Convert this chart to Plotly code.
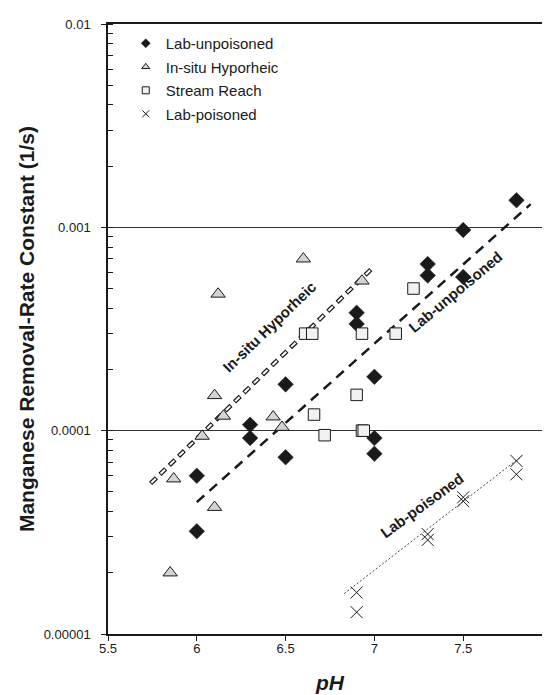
import plotly.graph_objects as go

# ---- data ----
lab_unpoisoned_ph = [6.0, 6.0, 6.3, 6.3, 6.5, 6.5, 6.9, 6.9, 7.0, 7.0, 7.0, 7.3, 7.3, 7.5, 7.5, 7.8]
lab_unpoisoned_k = [6.0e-5, 3.2e-5, 1.07e-4, 9.2e-5, 1.69e-4, 7.4e-5, 3.8e-4, 3.35e-4, 1.84e-4, 9.2e-5, 7.7e-5,
                    6.6e-4, 5.8e-4, 9.7e-4, 5.7e-4, 1.36e-3]

insitu_ph = [5.85, 5.87, 6.03, 6.1, 6.1, 6.12, 6.15, 6.43, 6.48, 6.6, 6.93]
insitu_k = [2.0e-5, 5.8e-5, 9.4e-5, 1.49e-4, 4.2e-5, 4.7e-4, 1.18e-4, 1.17e-4, 1.04e-4, 7.0e-4, 5.45e-4]

stream_ph = [6.61, 6.65, 6.66, 6.72, 6.9, 6.93, 6.93, 6.94, 7.12, 7.22]
stream_k = [3.0e-4, 3.0e-4, 1.2e-4, 9.5e-5, 1.5e-4, 3.0e-4, 1.0e-4, 1.0e-4, 3.0e-4, 5.0e-4]

poisoned_ph = [6.9, 6.9, 7.3, 7.3, 7.5, 7.5, 7.8, 7.8]
poisoned_k = [1.6e-5, 1.28e-5, 3.1e-5, 2.9e-5, 4.7e-5, 4.5e-5, 7.1e-5, 6.1e-5]

# trend lines (end points)
fit_unpoisoned_ph = [6.0, 7.88]
fit_unpoisoned_k = [4.45e-5, 1.3e-3]
fit_insitu_ph = [5.74, 6.98]
fit_insitu_k = [5.5e-5, 6.2e-4]
fit_poisoned_ph = [6.83, 7.83]
fit_poisoned_k = [1.58e-5, 7.5e-5]

series_names = ["Lab-unpoisoned", "In-situ Hyporheic", "Stream Reach", "Lab-poisoned"]

y_tickvals = [1e-5, 1e-4, 1e-3, 1e-2]
y_ticktext = ["0.00001", "0.0001", "0.001", "0.01"]
x_tickvals = [5.5, 6, 6.5, 7, 7.5, 8]
x_ticktext = ["5.5", "6", "6.5", "7", "7.5", "8"]

FONT = "Liberation Sans, Arial, sans-serif"
INK = "#1a1a1a"

styles = [
    dict(symbol="diamond", color=INK, line=dict(color=INK, width=0.5)),
    dict(symbol="triangle-up", color="#d4d4d4", line=dict(color=INK, width=1)),
    dict(symbol="square", color="#f2f2f2", line=dict(color=INK, width=1)),
    dict(symbol="x-thin", color=INK, line=dict(color=INK, width=1)),
]
sizes = [12, 12.5, 11.5, 12]
legend_sizes = [7, 7, 7, 7]

fig = go.Figure()

# trend lines
fig.add_trace(go.Scatter(x=fit_insitu_ph, y=fit_insitu_k, mode="lines", showlegend=False, hoverinfo="skip",
                         line=dict(color=INK, width=4.5, dash="8px,5px")))
fig.add_trace(go.Scatter(x=fit_insitu_ph, y=fit_insitu_k, mode="lines", showlegend=False, hoverinfo="skip",
                         line=dict(color="white", width=2, dash="0px,1px,6px,6px")))
fig.add_trace(go.Scatter(x=fit_unpoisoned_ph, y=fit_unpoisoned_k, mode="lines", showlegend=False, hoverinfo="skip",
                         line=dict(color=INK, width=2.5, dash="10px,7px")))
fig.add_trace(go.Scatter(x=fit_poisoned_ph, y=fit_poisoned_k, mode="lines", showlegend=False, hoverinfo="skip",
                         line=dict(color="#444", width=1, dash="2px,2px")))

# data series
data = [(lab_unpoisoned_ph, lab_unpoisoned_k), (insitu_ph, insitu_k), (stream_ph, stream_k),
        (poisoned_ph, poisoned_k)]
for (xs, ys), name, st, sz in zip(data, series_names, styles, sizes):
    fig.add_trace(go.Scatter(x=xs, y=ys, mode="markers", name=name, showlegend=False,
                             marker=dict(size=sz, **st)))

# legend entries (small symbols as in the reference)
for i, (name, st, sz) in enumerate(zip(series_names, styles, legend_sizes)):
    fig.add_trace(go.Scatter(x=[None], y=[None], mode="markers", name=name, legendgroup=str(i),
                             marker=dict(size=sz, **st)))

ann_font = dict(family=FONT, size=15, color=INK, weight="bold")
fig.add_annotation(x=6.41, y=-3.488, text="In-situ Hyporheic", showarrow=False, textangle=-44, font=ann_font)
fig.add_annotation(x=7.458, y=-3.316, text="Lab-unpoisoned", showarrow=False, textangle=-40, font=ann_font)
fig.add_annotation(x=7.267, y=-4.369, text="Lab-poisoned", showarrow=False, textangle=-36, font=ann_font)

fig.update_layout(
    width=550, height=695,
    margin=dict(l=100, r=2, t=16, b=69),
    paper_bgcolor="white", plot_bgcolor="white",
    font=dict(family=FONT, size=13, color=INK),
    legend=dict(x=0.04, y=0.995, xanchor="left", yanchor="top", bgcolor="rgba(0,0,0,0)",
                font=dict(family=FONT, size=15, color=INK), traceorder="grouped", tracegroupgap=1,
                itemsizing="trace"),
    showlegend=True,
)
fig.update_xaxes(range=[5.5, 8], tickmode="array", tickvals=x_tickvals, ticktext=x_ticktext,
                 ticks="outside", ticklen=5, tickcolor=INK, showgrid=False, zeroline=False,
                 showline=True, linecolor=INK, linewidth=1.5, mirror=True, ticklabelstandoff=-3,
                 tickfont=dict(family=FONT, size=13, color=INK),
                 title=dict(text="<i>pH</i>", font=dict(family=FONT, size=21, color=INK, weight="bold"), standoff=20))
fig.update_yaxes(type="log", range=[-5, -2], tickmode="array", tickvals=y_tickvals, ticktext=y_ticktext,
                 ticks="outside", ticklen=5, tickcolor=INK, showgrid=True, gridcolor="#333", gridwidth=1,
                 zeroline=False, showline=True, linecolor=INK, linewidth=1.5, mirror=True,
                 tickfont=dict(family=FONT, size=13, color=INK), ticklabelstandoff=8,
                 minor=dict(ticks="inside", ticklen=5, dtick="D1", tickcolor=INK, showgrid=False),
                 title=dict(text="Manganese Removal-Rate Constant (1/s)",
                            font=dict(family=FONT, size=21, color=INK, weight="bold"), standoff=3))

fig.write_html("out.html")
